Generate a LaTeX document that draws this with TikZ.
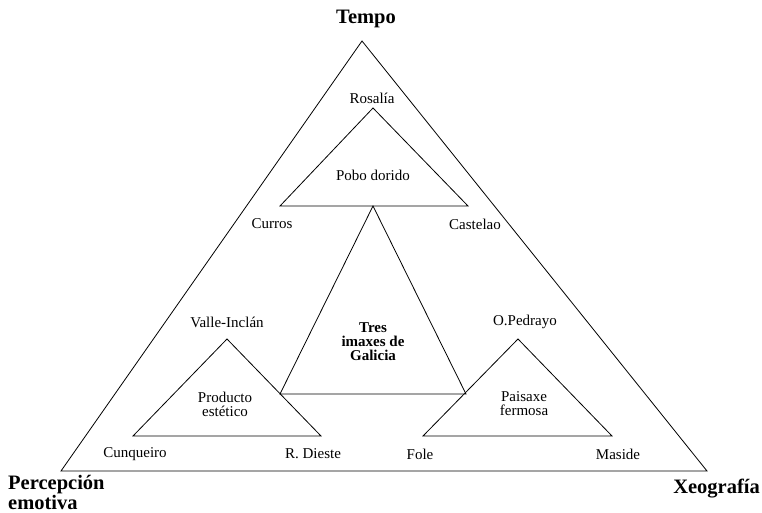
\documentclass[tikz,border=0pt]{standalone}
\usepackage{fontspec}
\setmainfont{Liberation Serif}
\begin{document}
\begin{tikzpicture}[x=1pt,y=-1pt,
  tri/.style={draw=black,line width=0.8pt,line join=miter},
  lab/.style={font=\fontsize{15}{14}\selectfont,inner sep=0pt,align=center},
  blab/.style={font=\fontsize{15}{14}\selectfont\bfseries,inner sep=0pt,align=center},
  big/.style={font=\fontsize{20.5}{16}\selectfont\bfseries,inner sep=0pt}]
\useasboundingbox (0,0) rectangle (762,513);
% outer triangle
\coordinate (OA) at (362,41);
\coordinate (OL) at (61,471);
\coordinate (OR) at (707,471);
% top triangle
\coordinate (TA) at (373,108);
\coordinate (TL) at (280,206);
\coordinate (TR) at (468,206);
% central triangle
\coordinate (CA) at (373,206);
\coordinate (CL) at (280,394);
\coordinate (CR) at (466,394);
% left triangle
\coordinate (LA) at (227,339);
\coordinate (LL) at (133,436);
\coordinate (LR) at (321,436);
% right triangle
\coordinate (RA) at (518,339);
\coordinate (RL) at (423,436);
\coordinate (RR) at (612,436);
\draw[tri] (OA) -- (OL) -- (OR) -- cycle;
\draw[tri] (TA) -- (TL) -- (TR) -- cycle;
\draw[tri] (CA) -- (CL) -- (CR) -- cycle;
\draw[tri] (LA) -- (LL) -- (LR) -- cycle;
\draw[tri] (RA) -- (RL) -- (RR) -- cycle;
% labels
\node[big] (tempo) at (366,19) {Tempo};
\node[big,anchor=east] (xeo) at (760,489) {Xeografía};
\node[big,anchor=north west,align=left,font=\fontsize{20.5}{15.5}\selectfont\bfseries] (perc) at (8,475) {Percepción\\emotiva};
\node[lab] (rosalia) at (372,98) {Rosalía};
\node[lab] (pobo) at (373,175) {Pobo dorido};
\node[lab] (curros) at (272,224) {Curros};
\node[lab] (castelao) at (475,224) {Castelao};
\node[lab] (valle) at (227,322) {Valle-Inclán};
\node[lab] (pedrayo) at (525,322) {O.Pedrayo};
\node[blab] (tres) at (373,342) {Tres\\imaxes de\\Galicia};
\node[lab] (producto) at (225,404) {Producto\\estético};
\node[lab] (paisaxe) at (524,404) {Paisaxe\\fermosa};
\node[lab] (cunq) at (135,454) {Cunqueiro};
\node[lab] (dieste) at (313,454) {R. Dieste};
\node[lab] (fole) at (420,454) {Fole};
\node[lab] (maside) at (618,454) {Maside};
\end{tikzpicture}
\end{document}
